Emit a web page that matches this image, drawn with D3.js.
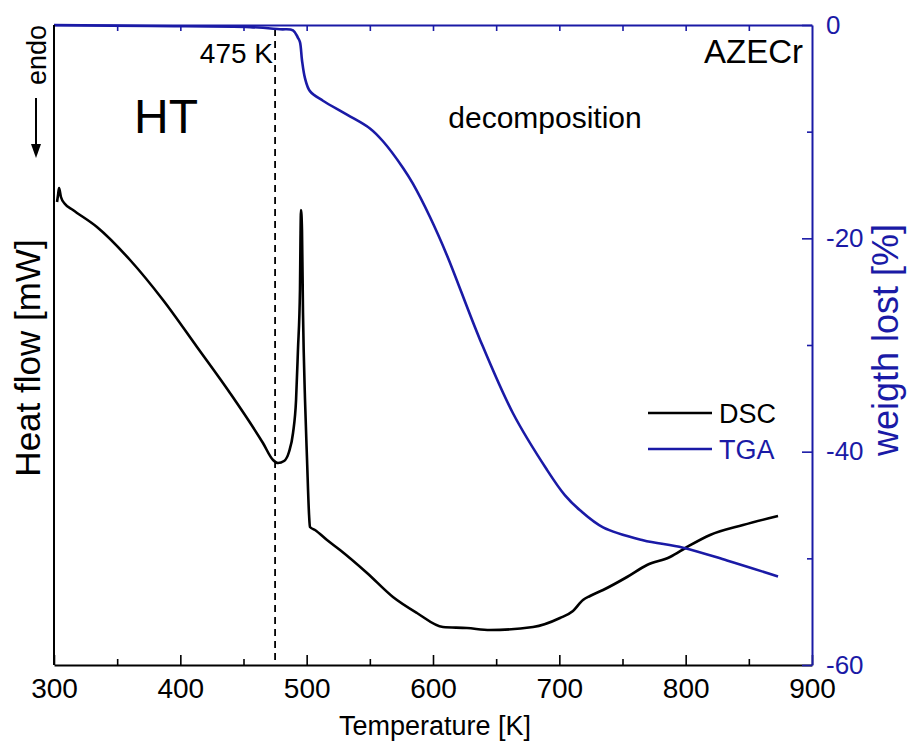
<!DOCTYPE html>
<html>
<head>
<meta charset="utf-8">
<script src="https://cdn.jsdelivr.net/npm/d3@7/dist/d3.min.js"></script>
<style>
  html, body { margin: 0; padding: 0; background: #fff; }
  svg { display: block; font-family: "Liberation Sans", Arial, sans-serif; }
</style>
</head>
<body>
<svg id="chart" width="907" height="742"></svg>
<script>
// ---- data ----
const xTicks = [300, 400, 500, 600, 700, 800, 900];
const xMinorTicks = [350, 450, 550, 650, 750, 850];
const yRightTicks = [0, -20, -40, -60];
const yRightMinorTicks = [-10, -30, -50];

// DSC: temperature [K], heat flow (arbitrary mW units)
const dscT = [302.4, 303.2, 304.0, 305.5, 308.7, 315.0, 334.0, 360.2, 386.3, 413.2, 439.3, 465.4, 473.4, 477.3, 482.1, 486.0, 489.2, 491.6, 493.1, 494.7, 495.1, 495.5, 496.3, 497.1, 498.7, 500.3, 501.9, 502.6, 506.6, 516.1, 526.4, 547.8, 568.3, 587.3, 607.9, 626.9, 645.1, 679.2, 700.5, 710.8, 718.7, 724.3, 734.6, 753.6, 769.4, 787.6, 801.1, 819.3, 845.4, 873.1];
const dscV = [46.3, 47.0, 47.7, 46.8, 46.1, 45.5, 43.8, 40.5, 36.5, 31.8, 27.2, 22.2, 20.5, 20.2, 20.4, 21.3, 23.2, 26.5, 31.5, 37.5, 42.5, 45.5, 43.5, 35.2, 26.5, 20.5, 15.0, 13.8, 13.5, 12.5, 11.5, 9.2, 6.8, 5.2, 3.8, 3.7, 3.5, 3.8, 4.7, 5.4, 6.5, 6.9, 7.5, 8.8, 10.0, 10.8, 11.8, 13.0, 14.0, 14.9];

// TGA: temperature [K], weight lost [%]
const tgaT = [300, 376, 455.3, 478.9, 489.2, 493.1, 494.7, 496.3, 498.7, 502.6, 512.9, 531.9, 550.1, 560.4, 576.3, 584.2, 597.6, 611.1, 637.2, 663.3, 690.2, 704.5, 716.4, 734.6, 766.2, 797.9, 832.7, 873.1];
const tgaW = [0, -0.1, -0.2, -0.4, -0.5, -1.2, -1.6, -3.3, -5.0, -6.2, -7.1, -8.4, -9.7, -10.9, -13.4, -14.9, -18.0, -21.6, -29.5, -36.4, -41.7, -44.1, -45.5, -47.1, -48.3, -49.0, -50.2, -51.7];

const markerT = 475;

// ---- drawing ----
const blue = "#1a1aa6";
const svg = d3.select("#chart");
const pL = 54, pR = 812, pT = 25, pB = 665;

const x = d3.scaleLinear().domain([300, 900]).range([pL, pR]);
const yR = d3.scaleLinear().domain([-60, 0]).range([pB, pT]);
const yL = d3.scaleLinear().domain([0, 64]).range([pB, pT]);

const dsc = dscT.map((t, i) => ({ t, v: dscV[i] }));
const tga = tgaT.map((t, i) => ({ t, v: tgaW[i] }));

// dashed marker line
svg.append("line")
  .attr("x1", x(markerT)).attr("x2", x(markerT))
  .attr("y1", pT + 4).attr("y2", pB)
  .attr("stroke", "#000").attr("stroke-width", 1.8)
  .attr("stroke-dasharray", "7,5");

// curves
svg.append("path").datum(dsc)
  .attr("fill", "none").attr("stroke", "#000").attr("stroke-width", 2.6)
  .attr("stroke-linejoin", "round")
  .attr("d", d3.line().x(d => x(d.t)).y(d => yL(d.v)).curve(d3.curveMonotoneX));

svg.append("path").datum(tga)
  .attr("fill", "none").attr("stroke", blue).attr("stroke-width", 2.6)
  .attr("stroke-linejoin", "round")
  .attr("d", d3.line().x(d => x(d.t)).y(d => yR(d.v)).curve(d3.curveCatmullRom.alpha(0.5)));

const tickFont = "'Liberation Sans Narrow', 'Liberation Sans', Arial, sans-serif";

// bottom axis
const gB = svg.append("g").attr("transform", `translate(0,${pB})`)
  .call(d3.axisBottom(x).tickValues(xTicks).tickSizeInner(-10).tickSizeOuter(0).tickPadding(13).tickFormat(d3.format("d")));
gB.select(".domain").attr("stroke", "#000").attr("stroke-width", 2);
gB.selectAll(".tick line").attr("stroke", "#000").attr("stroke-width", 1.6);
gB.selectAll(".tick text").attr("font-size", 28).attr("fill", "#000").attr("font-family", tickFont);
svg.append("g").attr("transform", `translate(0,${pB})`)
  .call(d3.axisBottom(x).tickValues(xMinorTicks).tickSizeInner(-6).tickSizeOuter(0).tickFormat(""))
  .call(g => g.select(".domain").remove())
  .selectAll(".tick line").attr("stroke", "#000").attr("stroke-width", 1.6);

// top axis (blue)
const gT = svg.append("g").attr("transform", `translate(0,${pT})`)
  .call(d3.axisTop(x).tickValues(xTicks.concat(xMinorTicks).filter(v => v > 300 && v < 900)).tickSizeInner(-6).tickSizeOuter(0).tickFormat(""));
gT.select(".domain").attr("stroke", blue).attr("stroke-width", 2);
gT.selectAll(".tick line").attr("stroke", blue).attr("stroke-width", 1.6);

// left axis line (no ticks)
svg.append("line").attr("x1", pL).attr("x2", pL).attr("y1", pT).attr("y2", pB)
  .attr("stroke", "#000").attr("stroke-width", 2);

// right axis (blue)
const gR = svg.append("g").attr("transform", `translate(${pR},0)`)
  .call(d3.axisRight(yR).tickValues(yRightTicks).tickSizeInner(-10).tickSizeOuter(0).tickPadding(14).tickFormat(d => String(d)));
gR.select(".domain").attr("stroke", blue).attr("stroke-width", 2);
gR.selectAll(".tick line").attr("stroke", blue).attr("stroke-width", 1.6);
gR.selectAll(".tick text").attr("font-size", 26).attr("fill", blue);
svg.append("g").attr("transform", `translate(${pR},0)`)
  .call(d3.axisRight(yR).tickValues(yRightMinorTicks).tickSizeInner(-5).tickSizeOuter(0).tickFormat(""))
  .call(g => g.select(".domain").remove())
  .selectAll(".tick line").attr("stroke", blue).attr("stroke-width", 1.6);

// axis titles
svg.append("text").attr("x", 435).attr("y", 735).attr("text-anchor", "middle")
  .attr("font-size", 27).attr("fill", "#000").attr("font-family", tickFont)
  .text("Temperature [K]");
svg.append("text").attr("transform", "translate(40,358) rotate(-90)")
  .attr("text-anchor", "middle").attr("font-size", 35).attr("fill", "#000")
  .text("Heat flow [mW]");
svg.append("text").attr("transform", "translate(898,340) rotate(-90)")
  .attr("text-anchor", "middle").attr("font-size", 36).attr("fill", blue)
  .text("weigth lost [%]");

// endo label + arrow
svg.append("text").attr("transform", "translate(46,55) rotate(-90)")
  .attr("text-anchor", "middle").attr("font-size", 27).attr("fill", "#000")
  .text("endo");
svg.append("line").attr("x1", 36).attr("x2", 36).attr("y1", 98).attr("y2", 146)
  .attr("stroke", "#000").attr("stroke-width", 2);
svg.append("path").attr("d", "M31,144 L41,144 L36,158 Z").attr("fill", "#000");

// annotations
svg.append("text").attr("x", 273).attr("y", 63).attr("text-anchor", "end")
  .attr("font-size", 28).attr("fill", "#000").text("475 K");
svg.append("text").attr("x", 166).attr("y", 133).attr("text-anchor", "middle")
  .attr("font-size", 48).attr("fill", "#000").text("HT");
svg.append("text").attr("x", 545).attr("y", 128).attr("text-anchor", "middle")
  .attr("font-size", 30).attr("fill", "#000").text("decomposition");
svg.append("text").attr("x", 803).attr("y", 63).attr("text-anchor", "end")
  .attr("font-size", 33).attr("fill", "#000").text("AZECr");

// legend
const legend = [{ name: "DSC", color: "#000", y: 413 }, { name: "TGA", color: blue, y: 449 }];
legend.forEach(l => {
  svg.append("line").attr("x1", 648).attr("x2", 712).attr("y1", l.y).attr("y2", l.y)
    .attr("stroke", l.color).attr("stroke-width", 2.6);
  svg.append("text").attr("x", 719).attr("y", l.y + 10).attr("font-size", 27)
    .attr("fill", l.color).text(l.name);
});
</script>
</body>
</html>
